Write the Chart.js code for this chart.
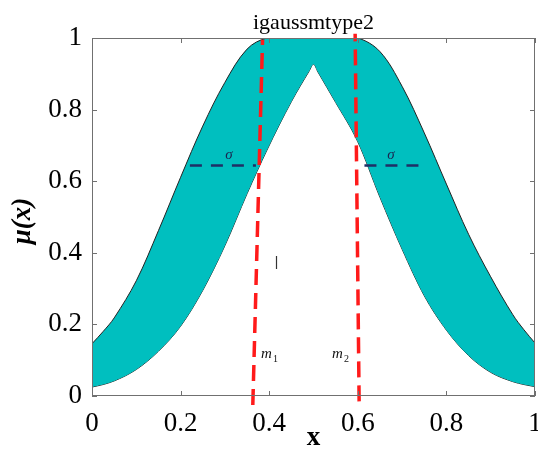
<!DOCTYPE html>
<html>
<head>
<meta charset="utf-8">
<script src="https://cdn.jsdelivr.net/npm/chart.js@4.4.1/dist/chart.umd.min.js"></script>
<style>
  html, body { margin: 0; padding: 0; background: #fff; }
  #wrap { width: 538px; height: 458px; }
</style>
</head>
<body>
<div id="wrap"><canvas id="mfChart" width="538" height="458"></canvas></div>
<script>
// values
const xs       = [0, 0.025, 0.05, 0.1, 0.15, 0.2, 0.25, 0.3, 0.35, 0.395, 0.45, 0.49, 0.5, 0.51, 0.55, 0.6, 0.65, 0.7, 0.75, 0.8, 0.85, 0.9, 0.95, 0.975, 1];
const upperMu  = [0.146, 0.18, 0.218, 0.322, 0.462, 0.611, 0.754, 0.876, 0.969, 1, 1, 1, 1, 1, 1, 1, 0.962, 0.865, 0.735, 0.592, 0.452, 0.333, 0.227, 0.185, 0.148];
const lowerMu  = [0.025, 0.032, 0.042, 0.074, 0.125, 0.195, 0.295, 0.42, 0.565, 0.687, 0.822, 0.907, 0.927, 0.905, 0.82, 0.71, 0.555, 0.41, 0.28, 0.184, 0.113, 0.066, 0.04, 0.032, 0.026];

// the two red dashed lines (mean bounds m1, m2) and the sigma marks
const m1LineX = [0.363, 0.385];
const m1LineY = [-0.025, 0.995];
const m2LineX = [0.603, 0.594];
const m2LineY = [-0.015, 1.012];
const sigmaLeftX  = [0.221, 0.37];
const sigmaRightX = [0.615, 0.741];
const sigmaY      = [0.644, 0.644];

const tickValues = [0, 0.2, 0.4, 0.6, 0.8, 1];
const tickLabels = ['0', '0.2', '0.4', '0.6', '0.8', '1'];

const pts = (x, y) => x.map((v, i) => ({ x: v, y: y[i] }));
const serif = '"Liberation Serif", "Times New Roman", serif';

const framePlugin = {
    id: 'frame',
    afterDraw(chart) {
        const { ctx, chartArea: a, scales } = chart;
        ctx.save();
        ctx.strokeStyle = '#707070';
        ctx.lineWidth = 1;
        ctx.strokeRect(a.left + 0.5, a.top + 0.5, a.right - a.left - 1, a.bottom - a.top - 1);
        // inner ticks on all four sides
        ctx.beginPath();
        tickValues.forEach(v => {
            const px = Math.round(scales.x.getPixelForValue(v)) + 0.5;
            const py = Math.round(scales.y.getPixelForValue(v)) + 0.5;
            ctx.moveTo(px, a.bottom); ctx.lineTo(px, a.bottom - 5);
            ctx.moveTo(px, a.top); ctx.lineTo(px, a.top + 5);
            ctx.moveTo(a.left, py); ctx.lineTo(a.left + 5, py);
            ctx.moveTo(a.right, py); ctx.lineTo(a.right - 5, py);
        });
        ctx.stroke();

        // title
        ctx.fillStyle = '#000';
        ctx.textAlign = 'center';
        ctx.textBaseline = 'alphabetic';
        ctx.font = '22px ' + serif;
        ctx.fillText('igaussmtype2', (a.left + a.right) / 2, 29);

        // axis titles
        ctx.font = 'bold 27px ' + serif;
        ctx.fillText('x', (a.left + a.right) / 2, 445);
        ctx.save();
        ctx.translate(30, 221);
        ctx.rotate(-Math.PI / 2);
        ctx.font = 'bold italic 27px ' + serif;
        ctx.fillText('\u03bc(x)', 0, 0);
        ctx.restore();

        // sigma labels
        ctx.fillStyle = '#1a2550';
        ctx.font = 'italic 15px ' + serif;
        ctx.fillText('\u03c3', 229, 159);
        ctx.fillText('\u03c3', 391, 159);

        // m1, m2 labels
        ctx.fillStyle = '#111';
        ctx.textAlign = 'left';
        ctx.font = 'italic 15px ' + serif;
        ctx.fillText('m', 261, 358);
        ctx.fillText('m', 332, 358);
        ctx.font = '10px ' + serif;
        ctx.fillText('1', 273, 362);
        ctx.fillText('2', 344, 362);

        // small bar
        ctx.strokeStyle = '#333';
        ctx.lineWidth = 1.2;
        ctx.beginPath();
        ctx.moveTo(276.5, 256); ctx.lineTo(276.5, 269);
        ctx.stroke();
        ctx.restore();
    }
};

const lineOpts = {
    pointRadius: 0,
    fill: false,
    clip: false,
    cubicInterpolationMode: 'monotone'
};

new Chart(document.getElementById('mfChart').getContext('2d'), {
    type: 'line',
    data: {
        datasets: [
            { ...lineOpts, data: pts(m1LineX, m1LineY), borderColor: '#ff1a1a', borderWidth: 3.5, borderDash: [16, 8], order: 0 },
            { ...lineOpts, data: pts(m2LineX, m2LineY), borderColor: '#ff1a1a', borderWidth: 3.5, borderDash: [16, 8], order: 0 },
            { ...lineOpts, data: pts(sigmaLeftX, sigmaY), borderColor: '#1f2f66', borderWidth: 2.5, borderDash: [12, 9], order: 1 },
            { ...lineOpts, data: pts(sigmaRightX, sigmaY), borderColor: '#1f2f66', borderWidth: 2.5, borderDash: [12, 9], order: 1 },
            {
                ...lineOpts,
                label: 'upper',
                data: pts(xs, upperMu),
                cubicInterpolationMode: 'default',
                tension: 0.35,
                clip: 0,
                borderColor: '#222',
                borderWidth: 1,
                backgroundColor: '#00bfbf',
                fill: '+1',
                order: 2
            },
            {
                ...lineOpts,
                label: 'lower',
                data: pts(xs, lowerMu),
                borderColor: '#222',
                borderWidth: 1,
                order: 3
            }
        ]
    },
    options: {
        responsive: false,
        animation: false,
        events: [],
        layout: { padding: { top: 38, right: 3, left: 0, bottom: 0 } },
        plugins: {
            legend: { display: false },
            tooltip: { enabled: false },
            filler: { propagate: false }
        },
        scales: {
            x: {
                type: 'linear',
                min: 0,
                max: 1,
                grid: { display: false, drawTicks: false },
                border: { display: false },
                afterBuildTicks: s => { s.ticks = tickValues.map(v => ({ value: v })); },
                afterFit: s => { s.height = 62; s.paddingLeft = 0; s.paddingRight = 0; },
                ticks: {
                    padding: 12,
                    color: '#000',
                    maxRotation: 0,
                    font: { family: serif, size: 27 },
                    callback: (v) => tickLabels[tickValues.indexOf(v)]
                }
            },
            y: {
                type: 'linear',
                min: 0,
                max: 1,
                grid: { display: false, drawTicks: false },
                border: { display: false },
                afterBuildTicks: s => { s.ticks = tickValues.map(v => ({ value: v })); },
                afterFit: s => { s.width = 92; s.paddingTop = 0; s.paddingBottom = 0; },
                ticks: {
                    padding: 10,
                    color: '#000',
                    font: { family: serif, size: 27 },
                    callback: (v) => tickLabels[tickValues.indexOf(v)]
                }
            }
        }
    },
    plugins: [framePlugin]
});
</script>
</body>
</html>
